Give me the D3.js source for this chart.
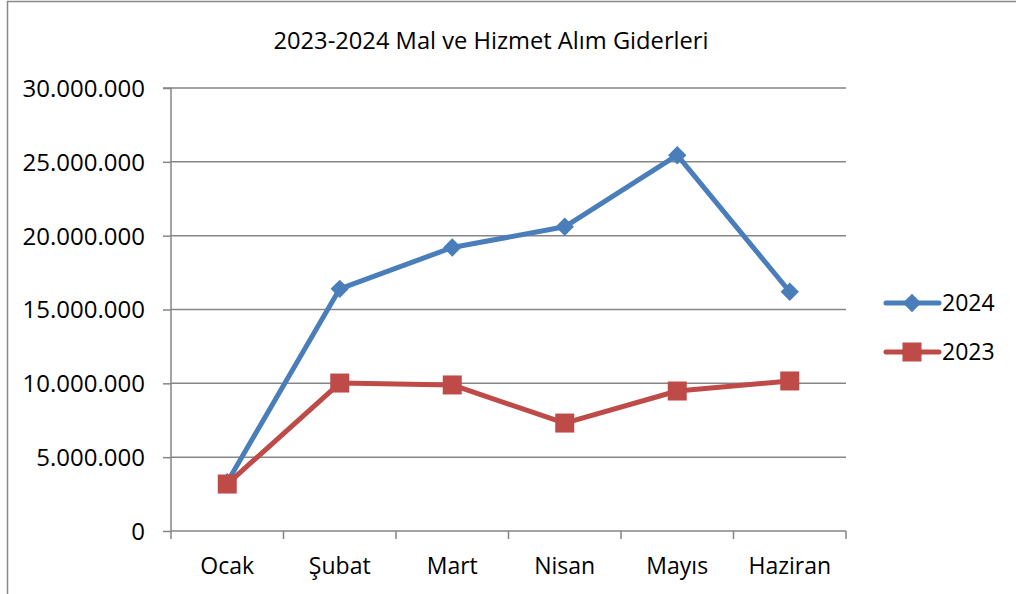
<!DOCTYPE html>
<html><head><meta charset="utf-8">
<script src="https://cdn.jsdelivr.net/npm/d3@7"></script>
<style>body{margin:0;background:#fff}svg{display:block}text{font-family:"Open Sans",sans-serif;fill:#000}</style>
</head><body>
<script>
const categories = ["Ocak","Şubat","Mart","Nisan","Mayıs","Haziran"];
const values2024 = [3300000,16400000,19200000,20600000,25450000,16200000];
const values2023 = [3180000,10020000,9890000,7310000,9480000,10160000];
const yTicks = [0,5000000,10000000,15000000,20000000,25000000,30000000];
const title = "2023-2024 Mal ve Hizmet Alım Giderleri";
const seriesNames = ["2024","2023"];

const W=1016,H=594;
const svg=d3.select("body").append("svg").attr("width",W).attr("height",H);
svg.append("rect").attr("x",7.5).attr("y",1.5).attr("width",1030).attr("height",620).attr("fill","#fff").attr("stroke","#898989").attr("stroke-width",1.5);

const L=171,R=846,T=88,B=531;
const x=d3.scaleBand().domain(categories).range([L,R]);
const y=d3.scaleLinear().domain([0,30000000]).range([B,T]);
const fmt=v=>d3.format(",")(v).replace(/,/g,".");
const grid="#868686";

svg.append("g").selectAll("line").data(yTicks.slice(1)).join("line")
 .attr("x1",L).attr("x2",R).attr("y1",d=>y(d)).attr("y2",d=>y(d)).attr("stroke",grid).attr("stroke-width",1.5);

const ya=svg.append("g").attr("transform",`translate(${L},0)`).call(d3.axisLeft(y).tickValues(yTicks).tickFormat(fmt).tickSize(8).tickPadding(18));
ya.select(".domain").attr("stroke",grid).attr("stroke-width",1.5).attr("d",`M-8,${T}H0V${B}`);
ya.selectAll(".tick line").attr("stroke",grid).attr("stroke-width",1.5);
ya.selectAll("text").attr("font-size",24).attr("font-family","Open Sans").attr("dy","0.35em").attr("fill","#000");

const xa=svg.append("g").attr("transform",`translate(0,${B})`);
xa.append("line").attr("x1",L).attr("x2",R).attr("stroke",grid).attr("stroke-width",1.5);
const bounds=categories.map(c=>x(c)).concat([R]);
xa.selectAll("line.t").data(bounds).join("line").attr("class","t").attr("x1",d=>d).attr("x2",d=>d).attr("y1",0).attr("y2",8).attr("stroke",grid).attr("stroke-width",1.5);
xa.selectAll("text").data(categories).join("text").attr("x",d=>x(d)+x.bandwidth()/2).attr("y",43).attr("text-anchor","middle").attr("font-size",23).text(d=>d);

svg.append("text").attr("x",491).attr("y",49).attr("text-anchor","middle").attr("font-size",23.7).text(title);

const cx=d=>x(d)+x.bandwidth()/2;
const line=d3.line().x((d,i)=>cx(categories[i])).y(d=>y(d));
const colors=["#4A7EBB","#BE4B48"];
function drawSeries(vals,col,kind){
  svg.append("path").datum(vals).attr("d",line).attr("fill","none").attr("stroke",col).attr("stroke-width",5).attr("stroke-linejoin","round");
  const g=svg.append("g");
  vals.forEach((v,i)=>{
    if(kind==="d") g.append("rect").attr("x",-6.5).attr("y",-6.5).attr("width",13).attr("height",13).attr("fill",col).attr("transform",`translate(${cx(categories[i])},${y(v)}) rotate(45)`);
    else g.append("rect").attr("x",cx(categories[i])-9.5).attr("y",y(v)-9.5).attr("width",19).attr("height",19).attr("fill",col);
  });
}
drawSeries(values2024,colors[0],"d");
drawSeries(values2023,colors[1],"s");

const lg=[{n:seriesNames[0],c:colors[0],k:"d",y:303},{n:seriesNames[1],c:colors[1],k:"s",y:352}];
lg.forEach(l=>{
  svg.append("line").attr("x1",886).attr("x2",939).attr("y1",l.y).attr("y2",l.y).attr("stroke",l.c).attr("stroke-width",5).attr("stroke-linecap","round");
  if(l.k==="d") svg.append("rect").attr("x",-6.5).attr("y",-6.5).attr("width",13).attr("height",13).attr("fill",l.c).attr("transform",`translate(912,${l.y}) rotate(45)`);
  else svg.append("rect").attr("x",912-9.5).attr("y",l.y-9.5).attr("width",19).attr("height",19).attr("fill",l.c);
  svg.append("text").attr("x",942).attr("y",l.y).attr("dy","0.35em").attr("font-size",23).text(l.n);
});
</script>
</body></html>
